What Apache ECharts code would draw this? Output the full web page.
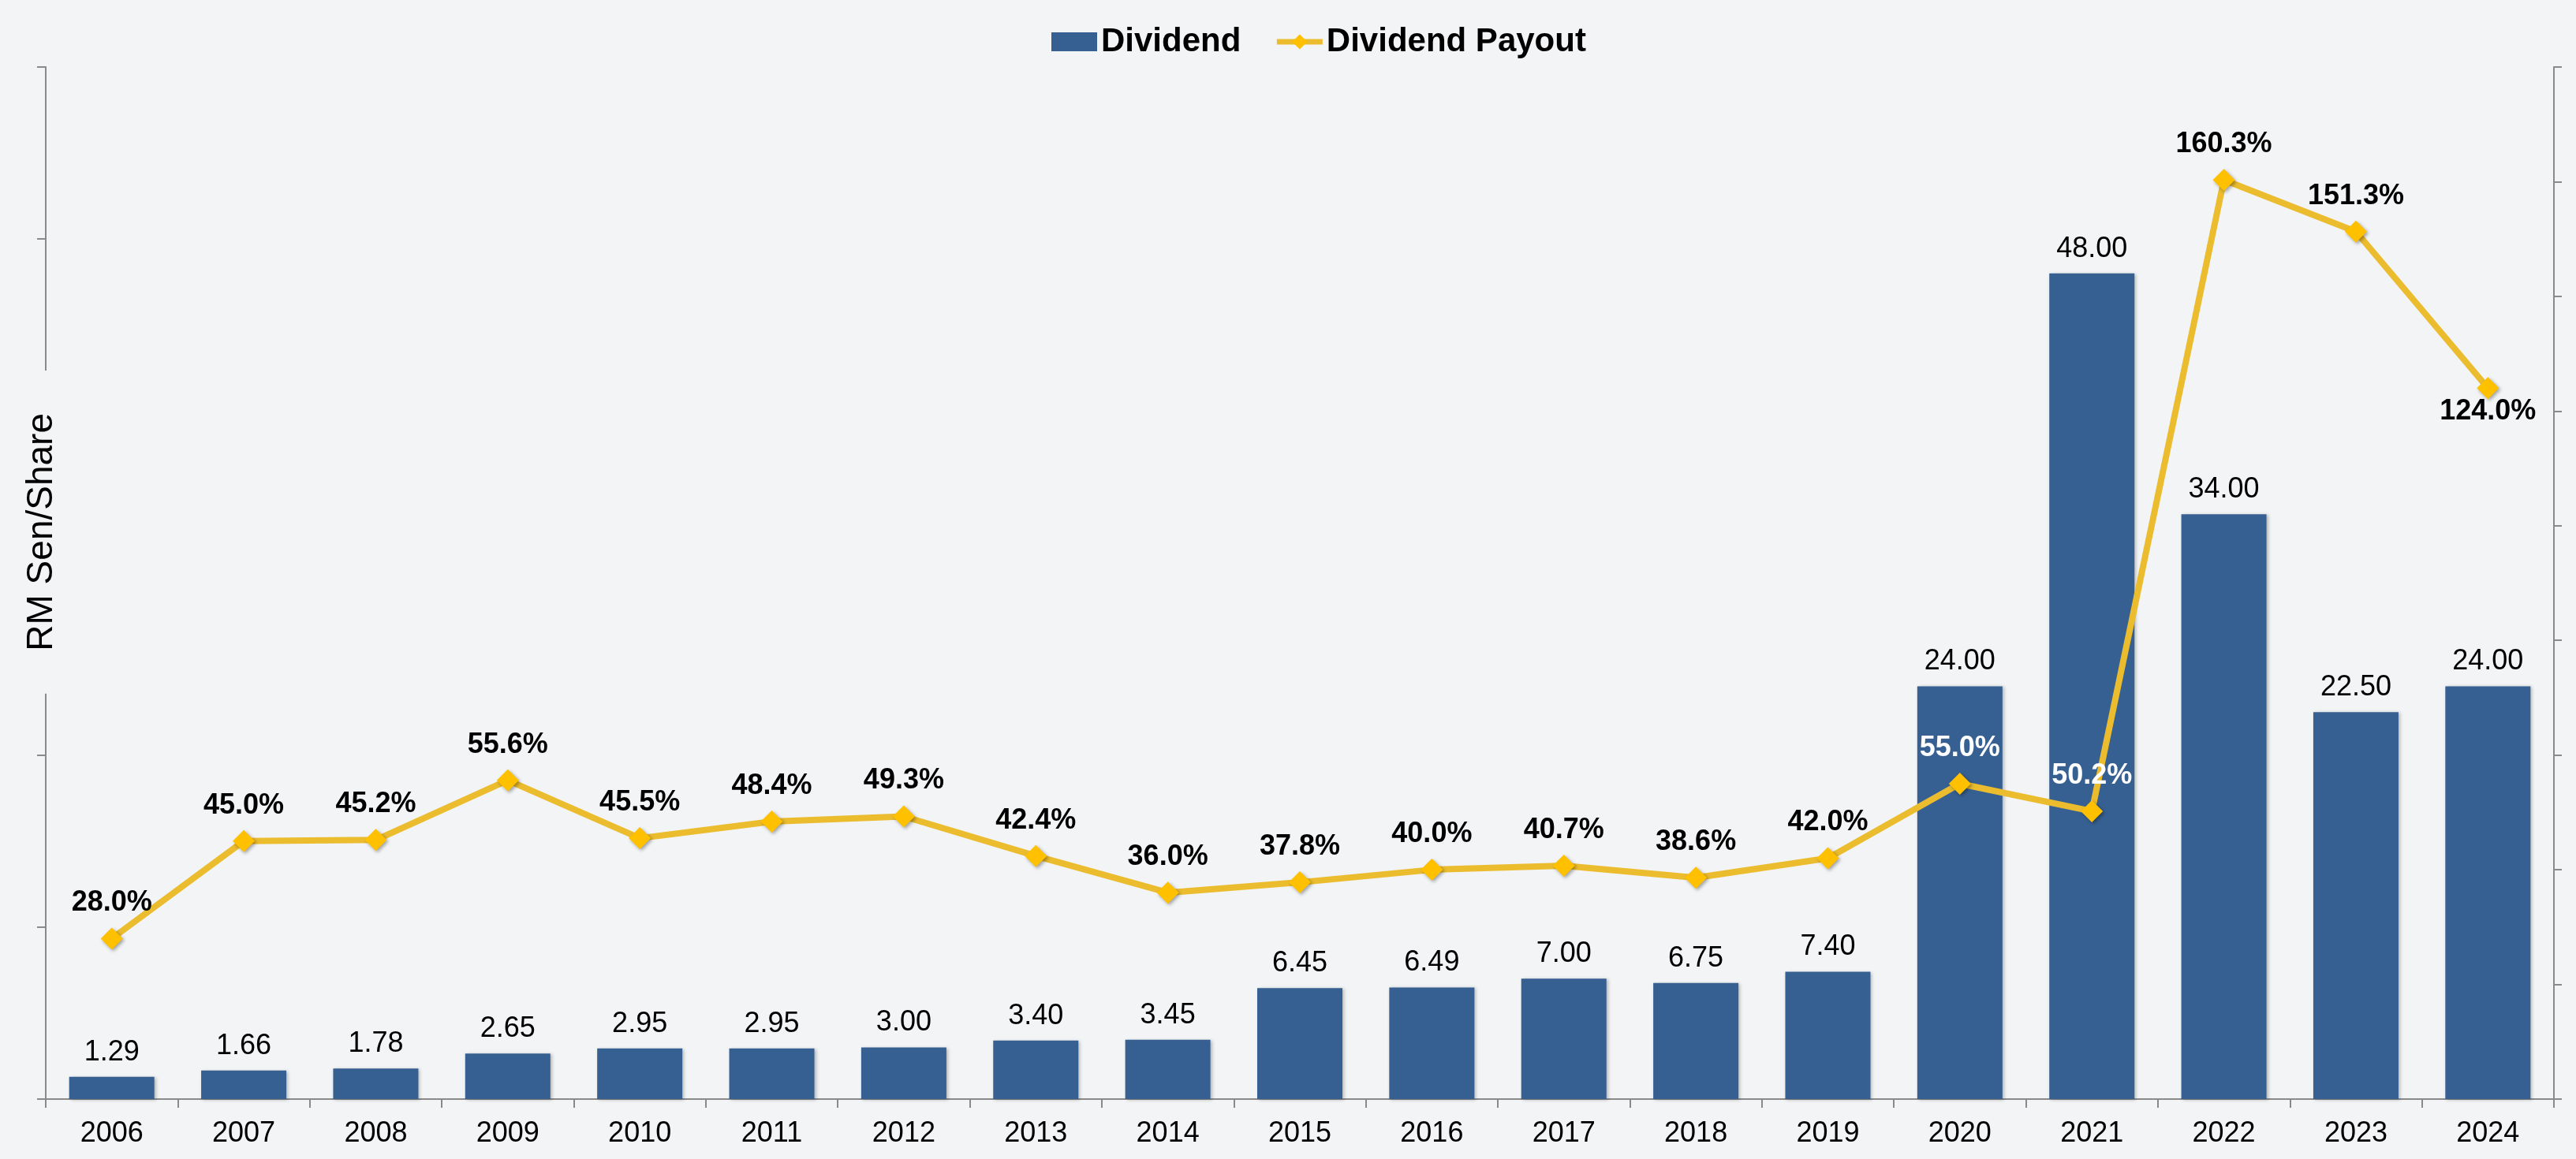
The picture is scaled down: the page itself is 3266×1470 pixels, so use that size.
<!DOCTYPE html>
<html>
<head>
<meta charset="utf-8">
<title>Dividend</title>
<script src="https://cdn.jsdelivr.net/npm/echarts@6/dist/echarts.min.js"></script>
<style>
  html, body { margin: 0; padding: 0; background: #f3f4f6; }
  #chart { width: 3266px; height: 1470px; }
</style>
</head>
<body>
<div id="chart"></div>
<script>
// Dividend (bars, RM sen/share) + dividend payout ratio (line, %)
const years = ['2006', '2007', '2008', '2009', '2010', '2011', '2012', '2013', '2014', '2015',
  '2016', '2017', '2018', '2019', '2020', '2021', '2022', '2023', '2024']
const dividend = [1.29, 1.66, 1.78, 2.65, 2.95, 2.95, 3.00, 3.40, 3.45, 6.45,
  6.49, 7.00, 6.75, 7.40, 24.00, 48.00, 34.00, 22.50, 24.00]
const payout = [28.0, 45.0, 45.2, 55.6, 45.5, 48.4, 49.3, 42.4, 36.0, 37.8,
  40.0, 40.7, 38.6, 42.0, 55.0, 50.2, 160.3, 151.3, 124.0]
// payout labels drawn in white (sit on the bars) / below the point
const whiteLabelYears = ['2020', '2021']
const belowLabelYears = ['2024']

const FONT = '"Liberation Sans", Arial, sans-serif'
const BG = '#f3f4f6'
const AXIS = '#8a8a8a'

const chart = echarts.init(document.getElementById('chart'))

const payoutData = payout.map((v, i) => {
  const y = years[i]
  const below = belowLabelYears.includes(y)
  return {
    value: v,
    label: {
      color: whiteLabelYears.includes(y) ? '#ffffff' : '#000000',
      position: below ? 'bottom' : 'top',
      distance: below ? -2 : 13
    }
  }
})

chart.setOption({
  backgroundColor: BG,
  animation: false,
  textStyle: { fontFamily: FONT },
  legend: {
    left: 1328,
    top: 27,
    itemWidth: 58,
    itemHeight: 24,
    itemGap: 42,
    textStyle: { fontSize: 42, fontWeight: 'bold', color: '#000', fontFamily: FONT },
    data: [
      { name: 'Dividend', icon: 'rect', itemStyle: { shadowBlur: 0, shadowOffsetX: 0, shadowOffsetY: 0 } },
      {
        name: 'Dividend Payout',
        lineStyle: { width: 7, color: '#ebbc2e' },
        itemStyle: { color: '#ffc000', shadowBlur: 0, shadowOffsetX: 0, shadowOffsetY: 0 }
      }
    ]
  },
  grid: { left: 58, right: 28, top: 85, bottom: 76, containLabel: false, outerBoundsMode: 'none' },
  xAxis: {
    type: 'category',
    data: years,
    boundaryGap: true,
    axisLine: { lineStyle: { color: AXIS, width: 2 } },
    axisTick: { show: true, alignWithLabel: false, length: 11, lineStyle: { color: AXIS, width: 2 } },
    axisLabel: { color: '#000', fontSize: 36, margin: 26, fontFamily: FONT }
  },
  yAxis: [
    {
      type: 'value',
      min: 0,
      max: 60,
      interval: 10,
      axisLine: { show: true, lineStyle: { color: AXIS, width: 2 } },
      axisTick: { show: true, length: 11, lineStyle: { color: AXIS, width: 2 } },
      axisLabel: { show: false },
      splitLine: { show: false }
    },
    {
      type: 'value',
      min: 0,
      max: 180,
      interval: 20,
      position: 'right',
      axisLine: { show: true, lineStyle: { color: AXIS, width: 2 } },
      axisTick: { show: true, length: 10, lineStyle: { color: AXIS, width: 2 } },
      axisLabel: { show: false },
      splitLine: { show: false }
    }
  ],
  // axis title sits over the left axis line with a background patch
  graphic: [
    {
      type: 'text',
      left: 26,
      top: 470,
      z: 100,
      style: {
        text: 'RM Sen/Share',
        fontSize: 46,
        fontFamily: FONT,
        fill: '#000',
        backgroundColor: BG,
        padding: [4, 54, 4, 54]
      },
      rotation: Math.PI / 2,
      originX: 0,
      originY: 0
    }
  ],
  series: [
    {
      name: 'Dividend',
      type: 'bar',
      data: dividend,
      barWidth: 108,
      itemStyle: {
        color: '#376092',
        shadowColor: 'rgba(0,0,0,0.25)',
        shadowBlur: 4,
        shadowOffsetX: 2,
        shadowOffsetY: 1
      },
      label: {
        show: true,
        position: 'top',
        distance: 13,
        color: '#000',
        fontSize: 36,
        fontFamily: FONT,
        formatter: (p) => p.value.toFixed(2)
      }
    },
    {
      name: 'Dividend Payout',
      type: 'line',
      yAxisIndex: 1,
      data: payoutData,
      symbol: 'diamond',
      symbolSize: 28,
      lineStyle: { color: '#ebbc2e', width: 8 },
      itemStyle: {
        color: '#ffc000',
        shadowColor: 'rgba(0,0,0,0.35)',
        shadowBlur: 4,
        shadowOffsetX: 2,
        shadowOffsetY: 2
      },
      label: {
        show: true,
        fontSize: 36,
        fontWeight: 'bold',
        fontFamily: FONT,
        formatter: (p) => p.value.toFixed(1) + '%'
      },
      z: 5
    }
  ]
})
</script>
</body>
</html>
